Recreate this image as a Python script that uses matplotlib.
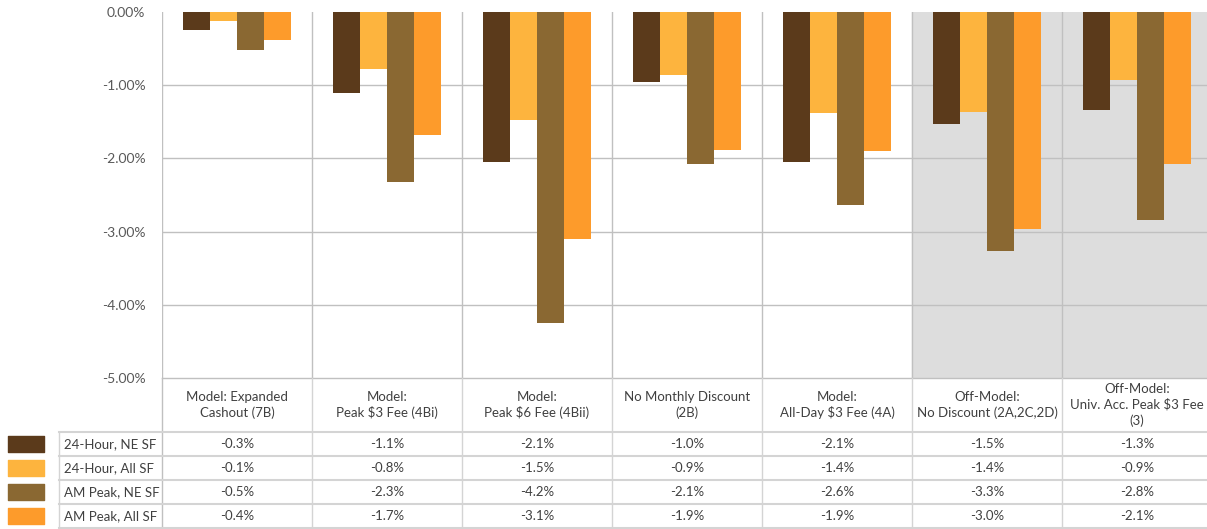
import matplotlib
matplotlib.use('Agg')
import matplotlib.pyplot as plt
import numpy as np

plt.rcParams['font.family'] = ['Lato', 'DejaVu Sans']

categories = ['Model: Expanded\nCashout (7B)', 'Model:\nPeak $3 Fee (4Bi)', 'Model:\nPeak $6 Fee (4Bii)',
              'No Monthly Discount\n(2B)', 'Model:\nAll-Day $3 Fee (4A)', 'Off-Model:\nNo Discount (2A,2C,2D)',
              'Off-Model:\nUniv. Acc. Peak $3 Fee\n(3)']
series = ['24-Hour, NE SF', '24-Hour, All SF', 'AM Peak, NE SF', 'AM Peak, All SF']
colors = ['#5B3A1B', '#FDB43E', '#8A6832', '#FD9B2B']

# bar values (%)
ne_24 = [-0.25, -1.10, -2.05, -0.96, -2.05, -1.53, -1.34]
all_24 = [-0.12, -0.78, -1.48, -0.86, -1.38, -1.36, -0.93]
ne_am = [-0.52, -2.32, -4.25, -2.07, -2.64, -3.27, -2.84]
all_am = [-0.38, -1.68, -3.10, -1.88, -1.90, -2.96, -2.08]
values = [ne_24, all_24, ne_am, all_am]

# table labels
table_ne_24 = ['-0.3%', '-1.1%', '-2.1%', '-1.0%', '-2.1%', '-1.5%', '-1.3%']
table_all_24 = ['-0.1%', '-0.8%', '-1.5%', '-0.9%', '-1.4%', '-1.4%', '-0.9%']
table_ne_am = ['-0.5%', '-2.3%', '-4.2%', '-2.1%', '-2.6%', '-3.3%', '-2.8%']
table_all_am = ['-0.4%', '-1.7%', '-3.1%', '-1.9%', '-1.9%', '-3.0%', '-2.1%']
table_rows = [table_ne_24, table_all_24, table_ne_am, table_all_am]

W, H = 1207, 529
fig = plt.figure(figsize=(W / 100, H / 100), dpi=100)
px_left, px_right = 162, 1212
ax = fig.add_axes([px_left / W, 1 - 378 / H, (px_right - px_left) / W, (378 - 12) / H])

n = len(categories)
x = np.arange(n)
bw = 0.18
grid_c = '#C0C0C0'
line_c = '#D4D4D4'
text_c = '#404040'

ax.axvspan(4.5, 6.5, color='#DDDDDD', zorder=0)
for i, (vals, c) in enumerate(zip(values, colors)):
    ax.bar(x + (i - 1.5) * bw, vals, bw, color=c, zorder=3)

ax.set_xlim(-0.5, n - 0.5)
ax.set_ylim(-5, 0)
ax.set_yticks([0, -1, -2, -3, -4, -5])
ax.set_yticklabels(['%.2f%%' % v if v != 0 else '0.00%' for v in [0, -1, -2, -3, -4, -5]],
                   fontsize=10, color='#595959')
ax.tick_params(axis='y', length=0, pad=12)
ax.set_xticks([])
for yv in [-1, -2, -3, -4]:
    ax.axhline(yv, color=grid_c, lw=1, zorder=1)
for xv in np.arange(-0.5, n, 1.0):
    ax.axvline(xv, color=grid_c, lw=1, zorder=1)
for s in ax.spines.values():
    s.set_visible(False)

# data table below
tax = fig.add_axes([px_left / W, 1 - 528 / H, (px_right - px_left) / W, 150 / H])
tax.set_xlim(-0.5, n - 0.5)
tax.set_ylim(150, 0)
tax.axis('off')
unit = (px_right - px_left) / n
row_left = -0.5 - (px_left - 59) / unit
sw_l = -0.5 - (px_left - 8) / unit
sw_r = -0.5 - (px_left - 44) / unit

tax.plot([-0.5, n - 0.5], [0, 0], color=grid_c, lw=1, clip_on=False)
for xv in np.arange(-0.5, n, 1.0):
    tax.plot([xv, xv], [0, 150], color=line_c if xv > -0.5 else grid_c, lw=1, clip_on=False)
tax.plot([row_left, row_left], [54, 150], color=line_c, lw=1, clip_on=False)
for k in range(5):
    yy = 54 + 24 * k
    tax.plot([row_left, n - 0.5], [yy, yy], color=line_c, lw=1.5, clip_on=False)

for j, lab in enumerate(categories):
    tax.text(j, 27, lab, ha='center', va='center', fontsize=9.5, color=text_c, linespacing=1.3)

for i, (name, row) in enumerate(zip(series, table_rows)):
    yc = 54 + 24 * i + 12
    tax.fill_between([sw_l, sw_r], yc - 8, yc + 8, color=colors[i], clip_on=False)
    tax.text(row_left + 0.03, yc, name, ha='left', va='center', fontsize=9.5, color=text_c, clip_on=False)
    for j, v in enumerate(row):
        tax.text(j, yc, v, ha='center', va='center', fontsize=9.5, color=text_c)

fig.savefig('out.png', dpi=100)
